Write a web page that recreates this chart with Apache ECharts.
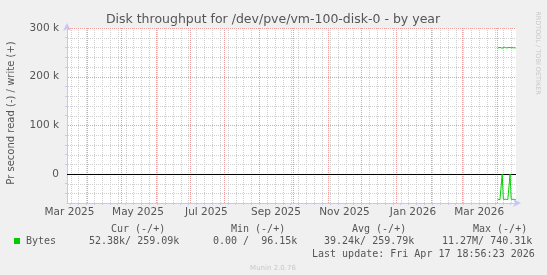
<!DOCTYPE html>
<html><head><meta charset="utf-8">
<script src="https://cdn.jsdelivr.net/npm/echarts@6/dist/echarts.min.js"></script>
<style>html,body{margin:0;padding:0;background:#f0f0f0}#c{width:547px;height:275px}</style>
</head><body><div id="c"></div>
<script>
// ---- data ----
const rangeStart = '2025-03-13T18:56:23Z';
const rangeEnd = '2026-04-17T18:56:23Z';
const dayDates = ['2026-04-01','2026-04-02','2026-04-03','2026-04-04','2026-04-05','2026-04-06','2026-04-07','2026-04-08','2026-04-09','2026-04-10','2026-04-11','2026-04-12','2026-04-13','2026-04-14','2026-04-15','2026-04-16','2026-04-17'];
const writeValues = [259000,259500,260000,259000,258500,259500,260500,260000,259000,259500,260000,258500,259500,259000,259500,259000,259090];
const readValues = [-52000,-52000,-52500,-52000,0,-52000,-52500,-52000,-52000,-52500,-52000,0,-52000,-52500,-52000,-52000,-52380];
const monthStarts = ['2025-04-01','2025-05-01','2025-06-01','2025-07-01','2025-08-01','2025-09-01','2025-10-01','2025-11-01','2025-12-01','2026-01-01','2026-02-01','2026-03-01','2026-04-01'];
const monthLabelDates = ['2025-03-16','2025-05-16','2025-07-16','2025-09-16','2025-11-16','2026-01-16','2026-03-16'];
const monthLabelTexts = ['Mar 2025','May 2025','Jul 2025','Sep 2025','Nov 2025','Jan 2026','Mar 2026'];
const firstMonday = '2025-03-17';
const yMin = -59600, yMax = 300000;
const yMajorTicks = [0, 100000, 200000, 300000];
const yMajorLabels = ['0', '100 k', '200 k', '300 k'];
const yMinorTicks = [-40000,-20000,20000,40000,60000,80000,120000,140000,160000,180000,220000,240000,260000,280000];
const legendHeads = ['Cur (-/+)','Min (-/+)','Avg (-/+)','Max (-/+)'];
const legendValues = ['52.38k/ 259.09k','0.00 /  96.15k','39.24k/ 259.79k','11.27M/ 740.31k'];

// ---- build ----
const t = s => new Date(s.length === 10 ? s + 'T00:00:00Z' : s).getTime();
const xMin = t(rangeStart), xMax = t(rangeEnd);
const mondays = [];
for (let m = t(firstMonday); m <= xMax; m += 7 * 86400000) mondays.push(m);
const labelMap = {};
monthLabelDates.forEach((d, i) => { labelMap[t(d)] = monthLabelTexts[i]; });
const yLabelMap = {};
yMajorTicks.forEach((v, i) => { yLabelMap[v] = yMajorLabels[i]; });

const axisBlue = '#c4c8f8';
const txt = '#555';
const minorCols = ['#d0d0d0', '#d0d0d1'];
const majorCols = ['#f09c9c', '#f09c9d'];
const sans = '"DejaVu Sans", sans-serif';
const mono = '"DejaVu Sans Mono", monospace';
const G = {left:67, right:31, top:28, bottom:72};

const chart = echarts.init(document.getElementById('c'), null, {renderer: 'canvas'});
const graphic = [
  {type:'text', x:273, y:20, style:{text:'Disk throughput for /dev/pve/vm-100-disk-0 - by year', font:'12.5px ' + sans, fill:txt, align:'center', verticalAlign:'middle'}},
  {type:'text', x:11, y:113, rotation:Math.PI/2, style:{text:'Pr second read (-) / write (+)', font:'10px ' + sans, fill:txt, align:'center', verticalAlign:'middle'}},
  {type:'text', x:538, y:53, rotation:-Math.PI/2, style:{text:'RRDTOOL / TOBI OETIKER', font:'6.5px ' + sans, fill:'#c8c8c8', align:'center', verticalAlign:'middle'}},
  {type:'rect', shape:{x:14, y:238, width:6, height:6}, style:{fill:'#00cc00'}},
  {type:'text', x:26, y:241, style:{text:'Bytes', font:'10px ' + mono, fill:txt, verticalAlign:'middle'}},
  {type:'text', x:312, y:254, style:{text:'Last update: Fri Apr 17 18:56:23 2026', font:'10px ' + mono, fill:txt, verticalAlign:'middle'}},
  {type:'text', x:273, y:268, style:{text:'Munin 2.0.76', font:'7px ' + sans, fill:'#c8c8c8', align:'center', verticalAlign:'middle'}}
];
const headX = [111, 231, 352, 473];
const valX = [89, 213, 324, 442];
legendHeads.forEach((h, i) => graphic.push({type:'text', x:headX[i], y:229, style:{text:h, font:'10px ' + mono, fill:txt, verticalAlign:'middle'}}));
legendValues.forEach((v, i) => graphic.push({type:'text', x:valX[i], y:241, style:{text:v, font:'10px ' + mono, fill:txt, verticalAlign:'middle'}}));

const mkData = vals => dayDates.map((d, i) => [t(d + 'T12:00:00Z'), vals[i]]);

// crisp grid lines, positioned through the axes' scales
function gridSeries(values, vertical, colors, zlevel, dash, full) {
  return {
    type:'custom', silent:true, zlevel:zlevel, z:1, clip:false,
    data: values.map(v => vertical ? [v, 0] : [xMin, v]),
    renderItem(params, api) {
      const cs = params.coordSys;
      const p = api.coord([api.value(0), api.value(1)]);
      const style = {stroke:colors[params.dataIndex % colors.length], fill:null, lineWidth:1, lineDash:dash};
      if (vertical) {
        const x = Math.round(p[0]) + 0.5;
        return {type:'line', shape:{x1:x, y1:cs.y + cs.height, x2:x, y2:cs.y}, style};
      }
      const y = Math.round(p[1]) + 0.5;
      return {type:'line', shape:{x1:cs.x + (full ? 0 : 1), y1:y, x2:cs.x + cs.width, y2:y}, style};
    }
  };
}

chart.setOption({
  backgroundColor: '#f0f0f0',
  animation: false,
  grid: Object.assign({show:true, backgroundColor:'#ffffff', borderWidth:0}, G),
  graphic: graphic,
  xAxis: [
    {type:'value', position:'bottom', min:xMin, max:xMax,
     axisLine:{show:true, onZero:false, lineStyle:{color:axisBlue, width:1}, symbol:['none','arrow'], symbolSize:[6,8], symbolOffset:[0,5]},
     axisTick:{show:true, customValues:mondays, length:2, lineStyle:{color:axisBlue}},
     axisLabel:{show:true, customValues:monthLabelDates.map(d => t(d)), formatter: v => labelMap[v] || '', color:txt, fontFamily:sans, fontSize:10.5, margin:4, hideOverlap:false},
     splitLine:{show:false}}
  ],
  yAxis: [
    {type:'value', position:'left', min:yMin, max:yMax,
     axisLine:{show:true, onZero:false, lineStyle:{color:axisBlue, width:1}, symbol:['none','arrow'], symbolSize:[6,8], symbolOffset:[0,5]},
     axisTick:{show:true, customValues:yMinorTicks, length:2, lineStyle:{color:axisBlue}},
     axisLabel:{show:true, customValues:yMajorTicks, formatter: v => (yLabelMap[v] !== undefined ? yLabelMap[v] : ''), color:txt, fontFamily:sans, fontSize:10.5, margin:8},
     splitLine:{show:false}}
  ],
  series: [
    gridSeries(mondays, true, minorCols, 1, [1,1], false),
    gridSeries(yMinorTicks, false, minorCols, 1, [1,1], false),
    gridSeries(monthStarts.map(d => t(d)), true, majorCols, 2, [1,1], false),
    gridSeries(yMajorTicks, false, majorCols, 2, [1,1], false),
    gridSeries([0], false, ['#000000'], 3, [4,0], true),
    {name:'write', type:'line', data:mkData(writeValues), zlevel:4, showSymbol:false, lineStyle:{color:'#00cc00', width:1, type:[4,0]}, itemStyle:{color:'#00cc00'}, z:5},
    {name:'read', type:'line', data:mkData(readValues), zlevel:4, showSymbol:false, lineStyle:{color:'#00cc00', width:1, type:[4,0]}, itemStyle:{color:'#00cc00'}, z:5}
  ]
});
</script></body></html>
